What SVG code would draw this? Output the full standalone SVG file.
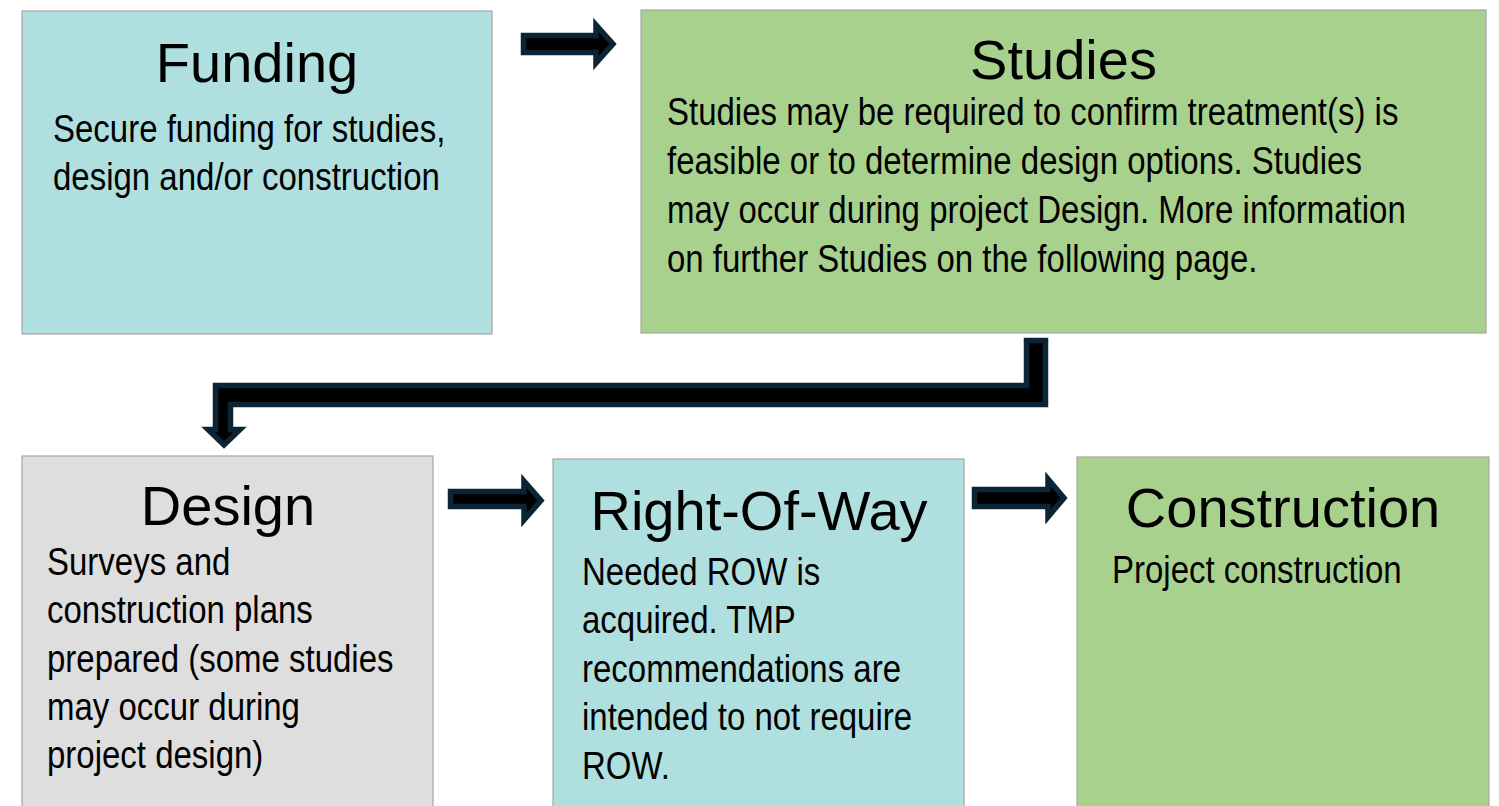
<svg xmlns="http://www.w3.org/2000/svg" width="1499" height="806" viewBox="0 0 1499 806">
  <style>
    .box { stroke: #a6a6a6; stroke-width: 1.2; }
    .teal { fill: #b0dfe0; }
    .green { fill: #a9d18e; }
    .grey { fill: #dedede; }
    .title { font-family: "Liberation Sans", Arial, sans-serif; font-size: 56px; fill: #000; text-anchor: middle; }
    .body { font-family: "Liberation Sans", Arial, sans-serif; font-size: 38px; fill: #000; }
    .arrow { fill: #000; stroke: #0c2534; stroke-width: 5.5; stroke-linejoin: miter; }
  </style>
  <rect width="1499" height="806" fill="#ffffff"/>

  <g id="funding">
    <rect class="box teal" x="22" y="11" width="470" height="323"/>
    <text class="title" x="257" y="82">Funding</text>
    <g transform="translate(53 0) scale(0.868 1)">
      <text class="body" x="0" y="142">Secure funding for studies,</text>
      <text class="body" x="0" y="190">design and/or construction</text>
    </g>
  </g>

  <g id="studies">
    <rect class="box green" x="641" y="10" width="845" height="323"/>
    <text class="title" x="1063.5" y="79">Studies</text>
    <g transform="translate(667 0) scale(0.868 1)">
      <text class="body" x="0" y="125">Studies may be required to confirm treatment(s) is</text>
      <text class="body" x="0" y="174">feasible or to determine design options. Studies</text>
      <text class="body" x="0" y="223">may occur during project Design. More information</text>
      <text class="body" x="0" y="272">on further Studies on the following page.</text>
    </g>
  </g>

  <g id="design">
    <rect class="box grey" x="22" y="456" width="411" height="352"/>
    <text class="title" x="228" y="525">Design</text>
    <g transform="translate(47 0) scale(0.868 1)">
      <text class="body" x="0" y="575">Surveys and</text>
      <text class="body" x="0" y="623">construction plans</text>
      <text class="body" x="0" y="672">prepared (some studies</text>
      <text class="body" x="0" y="720">may occur during</text>
      <text class="body" x="0" y="768">project design)</text>
    </g>
  </g>

  <g id="right-of-way">
    <rect class="box teal" x="553" y="459" width="411" height="349"/>
    <text class="title" x="759" y="530">Right-Of-Way</text>
    <g transform="translate(582 0) scale(0.868 1)">
      <text class="body" x="0" y="585">Needed ROW is</text>
      <text class="body" x="0" y="633">acquired. TMP</text>
      <text class="body" x="0" y="682">recommendations are</text>
      <text class="body" x="0" y="730">intended to not require</text>
      <text class="body" x="0" y="779">ROW.</text>
    </g>
  </g>

  <g id="construction">
    <rect class="box green" x="1077" y="457" width="412" height="351"/>
    <text class="title" x="1283" y="527">Construction</text>
    <g transform="translate(1112 0) scale(0.868 1)">
      <text class="body" x="0" y="583">Project construction</text>
    </g>
  </g>

  <g id="connectors">
    <polygon class="arrow" points="523.5,35.5 596,35.5 596,25 613,44 596,63 596,52.5 523.5,52.5"/>
    <polygon class="arrow" points="1026.5,340.5 1045.5,340.5 1045.5,404.5 230.5,404.5 230.5,429.5 240,429.5 224,445 208,429.5 215.5,429.5 215.5,385.5 1026.5,385.5"/>
    <polygon class="arrow" points="450.5,491.5 524,491.5 524,481 541,500.5 524,520 524,506.5 450.5,506.5"/>
    <polygon class="arrow" points="974.5,489.5 1048,489.5 1048,479 1064,498 1048,517 1048,506.5 974.5,506.5"/>
  </g>
</svg>
